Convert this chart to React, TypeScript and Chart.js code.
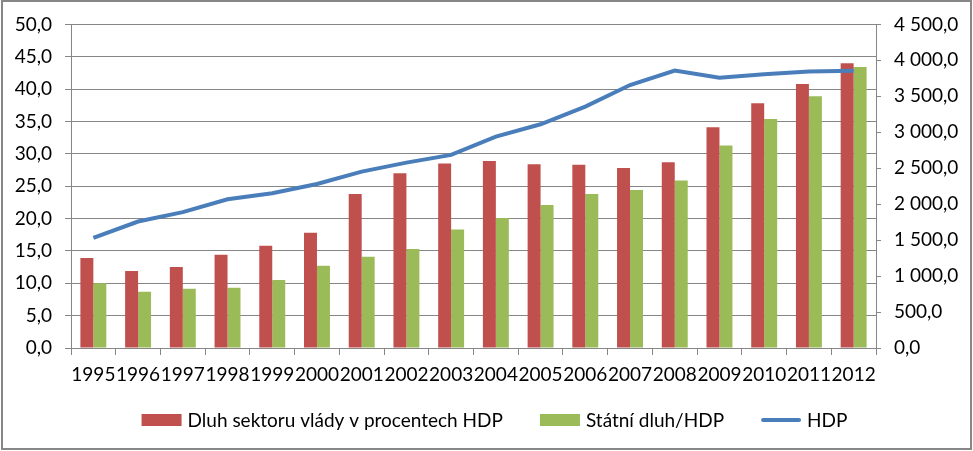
import React, { useEffect, useRef } from "react";
import { Chart, registerables } from "chart.js";

Chart.register(...registerables);

const categories = ["1995", "1996", "1997", "1998", "1999", "2000", "2001", "2002", "2003", "2004", "2005", "2006", "2007", "2008", "2009", "2010", "2011", "2012"];
const dluhSektoru = [13.9, 11.9, 12.5, 14.4, 15.8, 17.8, 23.8, 27.0, 28.5, 28.9, 28.4, 28.3, 27.8, 28.7, 34.1, 37.8, 40.8, 44.0];
const statniDluh = [10.0, 8.7, 9.15, 9.3, 10.5, 12.7, 14.1, 15.3, 18.3, 20.1, 22.1, 23.8, 24.4, 25.9, 31.3, 35.4, 38.9, 43.4];
const hdp = [1532, 1759, 1889, 2069, 2153, 2280, 2453, 2578, 2685, 2939, 3111, 3356, 3657, 3858, 3759, 3806, 3845, 3856];

const seriesNames = ["Dluh sektoru vlády v procentech HDP", "Státní dluh/HDP", "HDP"];

const FONT = "Lato";
const GRID = "#868686";

function fmtLeft(v: number) {
  return v.toFixed(1).replace(".", ",");
}
function fmtRight(v: number) {
  const [i, d] = v.toFixed(1).split(".");
  return i.replace(/\B(?=(\d{3})+(?!\d))/g, " ") + "," + d;
}

const legendPlugin = {
  id: "customLegend",
  afterDraw(chart: any) {
    const ctx = chart.ctx as CanvasRenderingContext2D;
    ctx.save();
    ctx.font = `19px ${FONT}`;
    const box = 40;
    const gap = 6;
    const itemGap = 37;
    const items = chart.data.datasets.map((ds: any) => ({
      text: ds.label as string,
      color: (ds.type === "line" ? ds.borderColor : ds.backgroundColor) as string,
      isLine: ds.type === "line",
      w: box + gap + ctx.measureText(ds.label).width,
    }));
    const total = items.reduce((s: number, it: any) => s + it.w, 0) + itemGap * (items.length - 1);
    let x = chart.width / 2 + 8 - total / 2;
    const y = 420;
    ctx.textBaseline = "middle";
    ctx.textAlign = "left";
    for (const it of items) {
      if (it.isLine) {
        ctx.strokeStyle = it.color;
        ctx.lineWidth = 4;
        ctx.lineCap = "round";
        ctx.beginPath();
        ctx.moveTo(x + 2, y);
        ctx.lineTo(x + box - 2, y);
        ctx.stroke();
      } else {
        ctx.fillStyle = it.color;
        ctx.fillRect(x, y - 6, box, 12);
      }
      ctx.fillStyle = "#000";
      ctx.fillText(it.text, x + box + gap, y + 1);
      x += it.w + itemGap;
    }
    ctx.restore();
  },
};

export default function App() {
  const ref = useRef<HTMLCanvasElement | null>(null);
  useEffect(() => {
    document.body.style.margin = "0";
    const ctx = ref.current!;
    const chart = new Chart(ctx, {
      type: "bar",
      data: {
        labels: categories,
        datasets: [
          {
            type: "bar",
            label: seriesNames[0],
            data: dluhSektoru,
            backgroundColor: "#C0504D",
            borderWidth: 0,
            yAxisID: "y",
            order: 2,
            categoryPercentage: 0.58,
            barPercentage: 1,
          } as any,
          {
            type: "bar",
            label: seriesNames[1],
            data: statniDluh,
            backgroundColor: "#9BBB59",
            borderWidth: 0,
            yAxisID: "y",
            order: 3,
            categoryPercentage: 0.58,
            barPercentage: 1,
          } as any,
          {
            type: "line",
            label: seriesNames[2],
            data: hdp,
            borderColor: "#4A7EBB",
            backgroundColor: "#4A7EBB",
            borderWidth: 4,
            pointRadius: 0,
            tension: 0,
            yAxisID: "y1",
            order: 0,
          } as any,
        ],
      },
      options: {
        responsive: false,
        animation: false,
        layout: { padding: { top: 24, bottom: 50, left: 0, right: 0 } },
        plugins: {
          tooltip: { enabled: false },
          legend: { display: false },
        },
        scales: {
          x: {
            offset: true,
            grid: { offset: true, drawOnChartArea: false, color: GRID, tickLength: 7 },
            border: { color: GRID, width: 1 },
            ticks: { color: "#000", font: { family: FONT, size: 19 }, maxRotation: 0, minRotation: 0, autoSkip: false, padding: 8 },
            afterFit: (s: any) => { s.height = 53; },
          },
          y: {
            position: "left",
            min: 0,
            max: 50,
            grid: { color: GRID, tickLength: 6 },
            border: { color: GRID, width: 1 },
            ticks: { stepSize: 5, color: "#000", font: { family: FONT, size: 19 }, padding: 13, callback: (v: any) => fmtLeft(Number(v)) },
            afterFit: (s: any) => { s.width = 71; },
          },
          y1: {
            position: "right",
            min: 0,
            max: 4500,
            grid: { drawOnChartArea: false, color: GRID, tickLength: 5 },
            border: { color: GRID, width: 1 },
            ticks: { stepSize: 500, color: "#000", font: { family: FONT, size: 19 }, padding: 13, callback: (v: any) => fmtRight(Number(v)) },
            afterFit: (s: any) => { s.width = 97; },
          },
        },
      } as any,
      plugins: [legendPlugin],
    });
    return () => chart.destroy();
  }, []);
  return (
    <div style={{ position: "fixed", left: 0, top: 0, width: 973, height: 451, background: "#fff" }}>
      <canvas ref={ref} width={973} height={451} style={{ display: "block" }} />
      <div
        style={{
          position: "absolute",
          left: 1,
          top: 0,
          width: 971,
          height: 450,
          boxSizing: "border-box",
          border: "2px solid #878787",
          pointerEvents: "none",
        }}
      />
    </div>
  );
}
